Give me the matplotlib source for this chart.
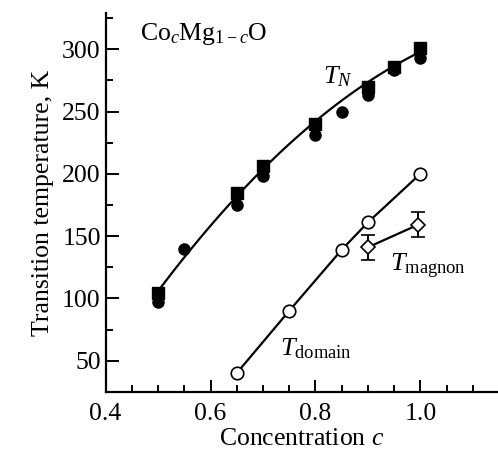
import numpy as np
import matplotlib
matplotlib.use('Agg')
import matplotlib.pyplot as plt
from matplotlib.ticker import MultipleLocator

plt.rcParams['font.family'] = 'Liberation Serif'
plt.rcParams['mathtext.fontset'] = 'custom'
plt.rcParams['mathtext.rm'] = 'Liberation Serif'
plt.rcParams['mathtext.it'] = 'Liberation Serif:italic'

# T_N, squares
c_sq = [0.50, 0.65, 0.70, 0.80, 0.90, 0.95, 1.00]
t_sq = [104, 185, 206, 240, 270, 286, 301]
# T_N, filled circles
c_ci = [0.50, 0.55, 0.65, 0.70, 0.80, 0.85, 0.90, 0.95, 1.00]
t_ci = [97, 140, 175, 198, 231, 250, 263, 283, 293]
# T_domain, open circles
c_dom = [0.65, 0.75, 0.85, 0.90, 1.00]
t_dom = [40, 90, 139, 161, 200]
# T_magnon, diamonds with error bars
c_mag = [0.90, 0.995]
t_mag = [141, 159]
e_mag = [10, 10]

fig = plt.figure(figsize=(4.98, 4.54), dpi=100)
ax = fig.add_axes([0.212, 0.137, 0.788, 0.834])

# smooth fit through the T_N squares
p = np.polyfit(c_sq, t_sq, 2)
cc = np.linspace(0.5, 1.0, 100)
ax.plot(cc, np.polyval(p, cc), color='black', lw=1.6, zorder=1)

ax.plot(c_sq, t_sq, 's', color='black', ms=8, zorder=3)
ax.plot(c_ci, t_ci, 'o', color='black', ms=8, zorder=2)
ax.plot(c_dom, t_dom, '-o', color='black', mfc='white', mec='black',
        ms=9, lw=1.6, mew=1.2, zorder=3)
ax.errorbar(c_mag, t_mag, yerr=e_mag, fmt='-D', color='black', mfc='white',
            mec='black', ms=7, lw=1.6, mew=1.2, capsize=5, elinewidth=1.4,
            capthick=1.4, zorder=3)

ax.text(0.465, 312, r'Co$_c$Mg$_{1-c}$O', fontsize=18.5, va='center')
ax.text(0.814, 278, r'$T_N$', fontsize=19, va='center')
ax.text(0.733, 60, r'$T_{\mathrm{domain}}$', fontsize=19, va='center')
ax.text(0.942, 126, r'$T_{\mathrm{magnon}}$', fontsize=19, va='center')

ax.set_xlim(0.4, 1.148)
ax.set_ylim(25, 329)
ax.xaxis.set_major_locator(MultipleLocator(0.2))
ax.xaxis.set_minor_locator(MultipleLocator(0.05))
ax.yaxis.set_major_locator(MultipleLocator(50))
ax.yaxis.set_minor_locator(MultipleLocator(25))
ax.set_xticks([0.4, 0.6, 0.8, 1.0])
ax.set_xticklabels(['0.4', '0.6', '0.8', '1.0'])
ax.set_yticks([50, 100, 150, 200, 250, 300])

ax.spines['top'].set_visible(False)
ax.spines['right'].set_visible(False)
for s in ['left', 'bottom']:
    ax.spines[s].set_linewidth(1.6)
ax.tick_params(which='both', direction='in', width=1.4, labelsize=18.5)
ax.tick_params(which='major', length=9)
ax.tick_params(which='minor', length=5)
ax.tick_params(axis='x', pad=8)

ax.set_xlabel(r'Concentration $c$', fontsize=18.5, labelpad=2)
ax.set_ylabel('Transition temperature, K', fontsize=18.5, labelpad=6)

fig.savefig('out.png', dpi=100)
